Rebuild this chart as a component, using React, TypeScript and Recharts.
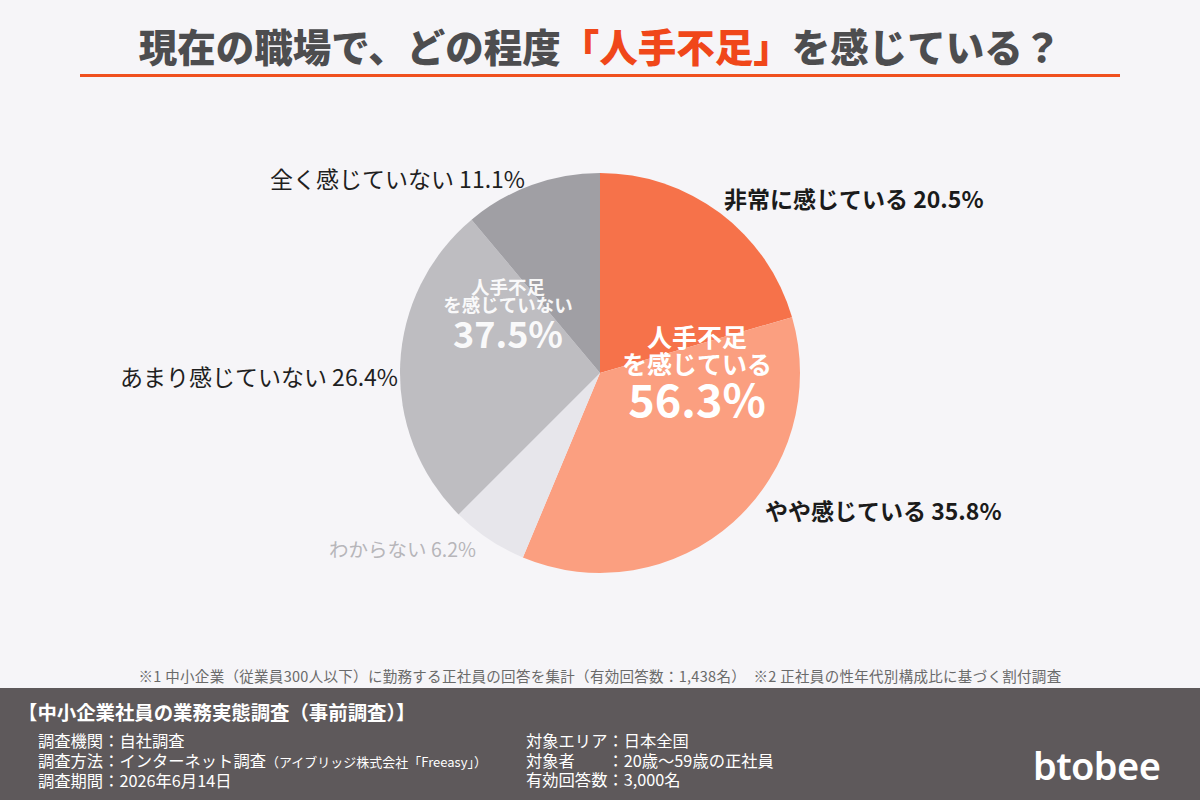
import React from 'react'
import { PieChart, Pie, Cell } from 'recharts'

const categories = ['非常に感じている', 'やや感じている', 'わからない', 'あまり感じていない', '全く感じていない']
const shares = [20.5, 35.8, 6.2, 26.4, 11.1]
const sliceColors = ['#F6724A', '#FB9F80', '#E7E6EB', '#BEBDC1', '#A09FA4']

const groupNames = ['人手不足を感じている', 'わからない', '人手不足を感じていない']
const groupMembers = [[0, 1], [2], [3, 4]]

const FONT = '"Noto Sans CJK JP", "Noto Sans", sans-serif'

const data = categories.map((name, i) => ({ name, value: shares[i] }))
const groupData = groupNames.map((name, i) => ({
  name,
  value: Math.round(groupMembers[i].reduce((s, k) => s + shares[k], 0) * 10) / 10,
}))

// label placement relative to the pie centre
const labelStyle = [
  { dx: 124, dy: -175, anchor: 'start', weight: 700, color: '#1b1b1b', size: 23 },
  { dx: 165, dy: 137, anchor: 'start', weight: 700, color: '#1b1b1b', size: 23 },
  { dx: -124, dy: 175, anchor: 'end', weight: 400, color: '#b7b6ba', size: 19.5 },
  { dx: -202, dy: 3, anchor: 'end', weight: 400, color: '#1f1f1f', size: 23 },
  { dx: -75, dy: -195, anchor: 'end', weight: 400, color: '#1f1f1f', size: 23 },
]

const renderLabel = (props: any) => {
  const { cx, cy, index, name, value } = props
  const s = labelStyle[index]
  return (
    <text
      x={cx + s.dx}
      y={cy + s.dy}
      textAnchor={s.anchor}
      dominantBaseline="central"
      fill={s.color}
      fontSize={s.size}
      fontWeight={s.weight}
      fontFamily={FONT}
    >
      {`${name} ${value.toFixed(1)}%`}
    </text>
  )
}

const groupStyle: Record<number, any> = {
  0: { dx: 97, lines: ['人手不足', 'を感じている'], y: [-37, -10, 24], size: 25, big: 45, opacity: 1 },
  2: { dx: -92, lines: ['人手不足', 'を感じていない'], y: [-87, -69, -41], size: 18.5, big: 36, opacity: 0.92 },
}

const renderGroupLabel = (props: any) => {
  const { cx, cy, index, value } = props
  const g = groupStyle[index]
  if (!g) return null
  const x = cx + g.dx
  return (
    <g fontFamily={FONT} fontWeight={700} fill="#ffffff" opacity={g.opacity} textAnchor="middle">
      <text x={x} y={cy + g.y[0]} dominantBaseline="central" fontSize={g.size}>{g.lines[0]}</text>
      <text x={x} y={cy + g.y[1]} dominantBaseline="central" fontSize={g.size}>{g.lines[1]}</text>
      <text x={x} y={cy + g.y[2]} dominantBaseline="central" fontSize={g.big}>{`${value.toFixed(1)}%`}</text>
    </g>
  )
}

export default function App() {
  return (
    <div
      style={{
        position: 'absolute',
        left: 0,
        top: 0,
        width: 1200,
        height: 800,
        background: '#F6F5F8',
        fontFamily: FONT,
        overflow: 'hidden',
      }}
    >
      <div
        style={{
          position: 'absolute',
          top: 19,
          left: 0,
          width: 1200,
          textAlign: 'center',
          fontSize: 38.5,
          fontWeight: 900,
          color: '#4d4d4f',
          lineHeight: '52px',
        }}
      >
        現在の職場で、どの程度<span style={{ color: '#F0471A' }}>「人手不足」</span>を感じている？
      </div>
      <div style={{ position: 'absolute', top: 74, left: 80, width: 1040, height: 3, background: '#F0501F' }} />

      <div style={{ position: 'absolute', left: 0, top: 0 }}>
        <PieChart width={1200} height={680}>
          <Pie
            data={data}
            dataKey="value"
            nameKey="name"
            cx={595}
            cy={368}
            outerRadius={200}
            startAngle={90}
            endAngle={-270}
            stroke="none"
            label={renderLabel}
            labelLine={false}
            isAnimationActive={false}
          >
            {data.map((d, i) => (
              <Cell key={d.name} fill={sliceColors[i]} />
            ))}
          </Pie>
          <Pie
            data={groupData}
            dataKey="value"
            nameKey="name"
            cx={595}
            cy={368}
            outerRadius={200}
            startAngle={90}
            endAngle={-270}
            fill="none"
            stroke="none"
            label={renderGroupLabel}
            labelLine={false}
            isAnimationActive={false}
          />
        </PieChart>
      </div>

      <div
        style={{
          position: 'absolute',
          top: 666,
          left: 0,
          width: 1200,
          textAlign: 'center',
          fontSize: 14.5,
          letterSpacing: 0.3,
          color: '#6a6a6a',
          lineHeight: '20px',
        }}
      >
        ※1 中小企業（従業員300人以下）に勤務する正社員の回答を集計（有効回答数：1,438名）　※2 正社員の性年代別構成比に基づく割付調査
      </div>

      <div style={{ position: 'absolute', top: 688, left: 0, width: 1200, height: 112, background: '#5E595B', color: '#ffffff' }}>
        <div style={{ position: 'absolute', left: 18, top: 12, fontSize: 19.4, fontWeight: 700, lineHeight: '24px' }}>
          【中小企業社員の業務実態調査（事前調査）】
        </div>
        <div style={{ position: 'absolute', left: 38, top: 43, fontSize: 16.3, lineHeight: '19.5px' }}>
          <div>調査機関：自社調査</div>
          <div>
            調査方法：インターネット調査<span style={{ fontSize: 13 }}>（アイブリッジ株式会社「Freeasy」）</span>
          </div>
          <div>調査期間：2026年6月14日</div>
        </div>
        <div style={{ position: 'absolute', left: 526, top: 43, fontSize: 16.3, lineHeight: '19.5px' }}>
          <div>対象エリア：日本全国</div>
          <div>対象者　　：20歳〜59歳の正社員</div>
          <div>有効回答数：3,000名</div>
        </div>
        <div
          style={{
            position: 'absolute',
            left: 1033,
            top: 55,
            fontFamily: '"Noto Sans", sans-serif',
            fontSize: 38,
            fontWeight: 600,
            letterSpacing: -0.6,
            lineHeight: '44px',
          }}
        >
          btobee
        </div>
      </div>
    </div>
  )
}
